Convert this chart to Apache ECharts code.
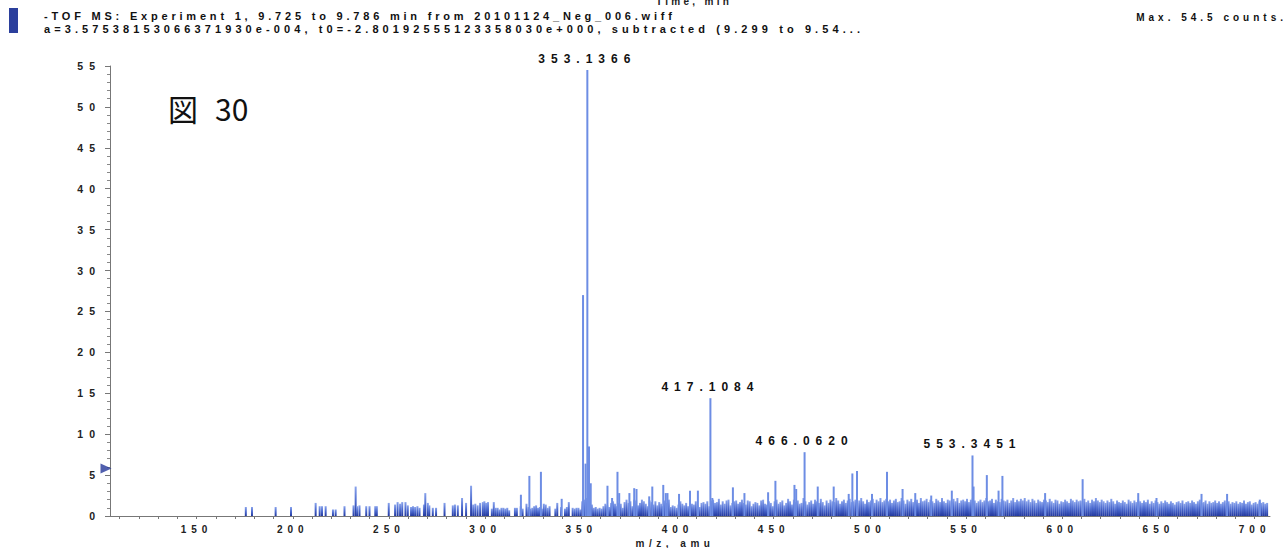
<!DOCTYPE html>
<html>
<head>
<meta charset="utf-8">
<script src="https://cdn.jsdelivr.net/npm/echarts@6/dist/echarts.min.js"></script>
<style>
html, body { margin: 0; padding: 0; background: #fff; }
#main { width: 1288px; height: 548px; }
#main text[style*="grpTime"], #main text[font-family*="grpTime"] { letter-spacing: 3.3px; }
#main text[style*="grpTopA"], #main text[font-family*="grpTopA"] { letter-spacing: 3.8px; }
#main text[style*="grpTopB"], #main text[font-family*="grpTopB"] { letter-spacing: 4.1px; }
#main text[style*="grpMax"], #main text[font-family*="grpMax"] { letter-spacing: 4px; }
#main text[style*="grpPeak"], #main text[font-family*="grpPeak"] { letter-spacing: 6px; }
#main text[style*="grpX"], #main text[font-family*="grpX"] { letter-spacing: 5px; }
#main text[style*="grpY"], #main text[font-family*="grpY"] { letter-spacing: 6px; }
#main text[style*="grpName"], #main text[font-family*="grpName"] { letter-spacing: 4.5px; }
</style>
</head>
<body>
<div id="main"></div>
<script>
// tick labels
var xLabels = [150, 200, 250, 300, 350, 400, 450, 500, 550, 600, 650, 700];

// sparse sticks below m/z 300
var lowMz = [175.6, 178.8, 191.1, 199.1, 211.9, 214.0, 215.2, 217.1, 220.9, 222.3,
  226.9, 231.6, 232.7, 233.5, 234.7, 238.2, 239.9, 242.9, 243.7, 249.9,
  253.2, 254.5, 255.8, 256.9, 258.6, 259.8, 261.5, 262.5, 263.6, 264.8,
  265.9, 268.2, 268.9, 270.2, 271.0, 272.8, 274.5, 278.9, 283.2, 284.3,
  285.8, 288.0, 290.1, 292.7, 293.8, 294.9, 296.1, 297.4, 298.8, 299.6];
var lowInt = [1.1, 1.1, 1.1, 1.1, 1.6, 1.2, 1.2, 1.2, 0.8, 0.8,
  1.2, 1.3, 3.6, 1.2, 1.3, 1.2, 1.2, 1.2, 1.2, 1.6,
  1.4, 1.7, 1.5, 1.7, 1.7, 1.3, 1.1, 1.2, 1.1, 1.2,
  1.0, 1.4, 2.8, 1.6, 1.3, 1.0, 1.0, 1.6, 1.3, 1.4,
  1.3, 2.2, 1.6, 3.7, 1.4, 1.5, 1.3, 1.6, 1.7, 1.8];

// noise band, one stick per amu from m/z 300
var noiseStart = 300;
var noiseInt = [
  1.6, 1.7, 0, 0.9, 1.7, 1.0, 1.0, 0.8, 1.0, 1.0,
  0.9, 1.0, 0.7, 0, 0, 1.0, 1.0, 0, 1.2, 0.9,
  0, 1.5, 1.1, 0.9, 1.0, 1.2, 1.3, 1.0, 1.1, 0.9,
  1.5, 1.4, 1.0, 1.2, 0, 0, 0.9, 1.6, 0, 1.1,
  0, 0.9, 1.1, 1.7, 0, 1.0, 0.9, 1.0, 1.0, 0.8,
  1.8, 2.0, 2.2, 1.6, 2.0, 1.4, 1.0, 1.1, 0.9, 1.0,
  0.9, 1.2, 1.5, 1.3, 1.1, 1.6, 1.8, 1.5, 1.2, 1.6,
  1.5, 1.0, 1.7, 2.0, 1.6, 1.8, 1.2, 2.0, 1.9, 1.3,
  1.6, 2.0, 1.8, 1.5, 1.2, 1.9, 1.7, 1.4, 1.8, 1.3,
  1.7, 1.5, 1.2, 1.9, 1.6, 2.0, 1.1, 1.3, 1.2, 1.0,
  1.4, 1.8, 1.5, 1.3, 1.6, 1.2, 1.7, 1.5, 1.4, 1.8,
  1.3, 1.1, 1.6, 1.7, 1.5, 1.8, 1.2, 1.9, 2.0, 1.6,
  1.7, 2.1, 1.4, 1.8, 1.5, 1.9, 2.0, 1.3, 1.6, 1.8,
  1.9, 1.5, 1.7, 2.0, 1.6, 1.4, 1.9, 1.8, 1.2, 1.5,
  1.7, 1.6, 1.3, 1.9, 2.0, 1.5, 1.4, 1.8, 1.6, 1.2,
  1.8, 2.0, 1.5, 1.7, 1.9, 1.3, 1.6, 2.1, 1.8, 1.4,
  2.0, 1.7, 1.9, 1.5, 1.6, 2.2, 1.8, 1.4, 1.7, 1.9,
  1.5, 2.0, 1.8, 1.6, 2.1, 1.7, 1.3, 1.9, 1.6, 2.0,
  1.8, 1.7, 2.2, 1.9, 1.5, 1.8, 2.0, 1.6, 1.9, 2.1,
  1.7, 1.8, 2.0, 1.6, 1.9, 2.2, 1.8, 1.5, 2.0, 1.7,
  1.9, 2.1, 1.6, 2.0, 1.8, 2.2, 1.7, 1.9, 2.1, 1.8,
  2.0, 1.6, 1.9, 2.1, 1.7, 1.8, 2.2, 1.9, 1.5, 2.0,
  1.8, 2.1, 1.7, 1.9, 2.0, 1.6, 2.2, 1.8, 1.9, 2.1,
  1.7, 2.0, 1.8, 1.6, 2.1, 1.9, 1.7, 2.2, 1.8, 1.6,
  2.0, 1.9, 1.7, 2.1, 1.8, 2.2, 1.6, 1.9, 2.0, 1.8,
  2.1, 1.7, 2.0, 2.2, 1.9, 1.6, 1.8, 2.0, 1.7, 1.9,
  2.2, 1.8, 1.9, 2.1, 1.6, 2.0, 1.8, 1.7, 2.1, 1.9,
  1.8, 2.0, 1.6, 1.9, 2.2, 1.7, 2.0, 1.8, 2.1, 1.9,
  2.2, 1.8, 2.0, 1.7, 2.1, 1.9, 1.6, 2.0, 1.8, 1.7,
  2.0, 1.9, 1.7, 2.1, 1.8, 1.6, 2.0, 1.9, 1.5, 1.8,
  1.7, 2.0, 1.8, 1.6, 2.1, 1.9, 1.7, 2.0, 1.8, 1.9,
  1.8, 2.1, 1.7, 1.9, 1.6, 2.0, 1.8, 2.2, 1.9, 1.7,
  2.0, 1.8, 1.6, 1.9, 1.7, 2.1, 1.8, 1.5, 1.9, 1.7,
  1.6, 1.9, 1.7, 1.5, 2.0, 1.8, 1.6, 1.9, 1.7, 2.0,
  1.8, 1.6, 1.9, 1.7, 2.0, 1.5, 1.8, 1.6, 1.9, 1.7,
  1.5, 1.8, 1.6, 1.9, 1.7, 1.5, 1.8, 1.6, 1.4, 1.7,
  1.8, 1.6, 1.9, 1.5, 1.7, 1.8, 1.6, 1.9, 1.7, 1.5,
  1.8, 2.0, 1.6, 1.7, 1.9, 1.5, 1.8, 1.6, 1.7, 1.9,
  1.6, 1.8, 1.5, 1.7, 1.9, 1.6, 1.8, 1.5, 1.7, 1.6,
  1.8, 1.5, 1.7, 1.6, 1.9, 1.5, 1.7, 1.8, 1.4, 1.6,
  1.7, 1.5, 1.8, 1.6, 1.7, 1.5, 1.6
];

// peaks standing above the noise
var peakMz = [318.6, 323.0, 329.0, 339.8, 350.9, 352.2, 353.1366, 354.0, 354.9, 363.6,
  366.0, 368.8, 369.7, 375.0, 377.5, 378.7, 385.3, 386.9, 392.6, 393.9,
  394.8, 400.8, 406.5, 410.6, 417.1084, 418.1, 428.8, 434.8, 447.1, 450.9,
  460.8, 461.7, 466.0620, 472.9, 481.2, 489.0, 490.9, 493.3, 501.1, 508.9,
  517.0, 523.6, 531.9, 542.6, 553.3451, 553.9, 560.8, 566.9, 568.9, 591.1,
  610.6, 639.5, 649.0, 672.4, 685.7, 702.7];
var peakInt = [2.6, 4.9, 5.4, 2.1, 27.0, 6.4, 54.5, 8.5, 4.0, 3.7,
  2.2, 5.4, 2.8, 2.8, 3.4, 3.3, 2.4, 3.6, 3.8, 2.8,
  2.8, 2.7, 3.1, 3.1, 14.4, 2.2, 3.5, 2.8, 2.9, 4.3,
  3.8, 3.3, 7.8, 3.6, 3.6, 2.7, 5.2, 5.5, 2.7, 5.4,
  3.3, 2.8, 2.5, 3.1, 7.4, 3.6, 5.0, 3.1, 4.9, 2.8,
  4.5, 2.8, 2.2, 2.7, 2.7, 2.0];
var labelledPeaks = ['353.1366', '417.1084', '466.0620', '553.3451'];

var chart = echarts.init(document.getElementById('main'), null, { renderer: 'svg' });

var tickVals = [];
for (var t = 110; t <= 700; t += 10) tickVals.push(t);

var stickFill = new echarts.graphic.LinearGradient(0, 0, 0, 1, [
  { offset: 0, color: '#8aa4ec' },
  { offset: 0.5, color: '#4d6bcf' },
  { offset: 1, color: '#23399f' }
]);

var lowData = lowMz.map(function (m, i) { return [m, lowInt[i]]; });
var noiseData = noiseInt.map(function (v, i) { return [noiseStart + i + 0.5, v]; });
var peakData = peakMz.map(function (m, i) {
  var name = m.toFixed(4);
  var item = { value: [m, peakInt[i]] };
  if (labelledPeaks.indexOf(name) >= 0) {
    item.label = { show: true, formatter: name };
  }
  return item;
});

var option = {
  backgroundColor: '#ffffff',
  animation: false,
  grid: { left: 110, right: 18, top: 66, bottom: 32, outerBoundsMode: 'none', containLabel: false },
  xAxis: {
    type: 'value',
    min: 105,
    max: 708,
    name: 'm/z, amu',
    nameLocation: 'middle',
    nameGap: 18,
    nameTextStyle: {
      fontFamily: 'grpName, "Liberation Sans", sans-serif',
      fontSize: 10, fontWeight: 'bold', color: '#222',
      padding: [0, 30, 0, 0]
    },
    splitLine: { show: false },
    axisLine: { lineStyle: { color: '#777', width: 1 } },
    axisTick: { show: true, length: 3, customValues: tickVals, lineStyle: { color: '#777' } },
    axisLabel: {
      customValues: xLabels,
      margin: 8,
      fontFamily: 'grpX, "Liberation Sans", sans-serif',
      fontSize: 10, fontWeight: 'bold', color: '#222'
    }
  },
  yAxis: {
    type: 'value',
    min: 0,
    max: 55,
    interval: 5,
    splitLine: { show: false },
    axisLine: { show: true, lineStyle: { color: '#777', width: 1 } },
    axisTick: { show: true, length: 5, lineStyle: { color: '#777' } },
    minorTick: { show: true, splitNumber: 5, length: 3, lineStyle: { color: '#888' } },
    axisLabel: {
      margin: 9,
      fontFamily: 'grpY, "Liberation Sans", sans-serif',
      fontSize: 10.5, fontWeight: 'bold', color: '#222'
    }
  },
  graphic: [
    { type: 'rect', shape: { x: 9, y: 8, width: 9, height: 25 }, style: { fill: '#2b3f9c' } },
    { type: 'text', style: { text: 'Time, min', x: 656, y: 1, textVerticalAlign: 'middle',
      font: 'bold 10px grpTime, "Liberation Sans", sans-serif', fill: '#222' } },
    { type: 'text', style: { text: '-TOF MS: Experiment 1, 9.725 to 9.786 min from 20101124_Neg_006.wiff',
      x: 44, y: 16, textVerticalAlign: 'middle',
      font: 'bold 11px grpTopA, "Liberation Sans", sans-serif', fill: '#111' } },
    { type: 'text', style: { text: 'a=3.57538153066371930e-004, t0=-2.80192555123358030e+000, subtracted (9.299 to 9.54...',
      x: 44, y: 29, textVerticalAlign: 'middle',
      font: 'bold 11px grpTopB, "Liberation Sans", sans-serif', fill: '#111' } },
    { type: 'text', style: { text: 'Max. 54.5 counts.', x: 1287, y: 17, textAlign: 'right', textVerticalAlign: 'middle',
      font: 'bold 10px grpMax, "Liberation Sans", sans-serif', fill: '#111' } },
    { type: 'text', style: { text: '図', x: 168, y: 108, textVerticalAlign: 'middle',
      font: '30px "Noto Sans CJK JP", sans-serif', fill: '#111' } },
    { type: 'text', style: { text: '30', x: 215, y: 108, textVerticalAlign: 'middle',
      font: '30px "Noto Sans CJK JP", sans-serif', fill: '#111' } }
  ],
  series: [
    {
      type: 'bar', name: 'low', barWidth: 2, barGap: '-100%',
      itemStyle: { color: stickFill },
      data: lowData
    },
    {
      type: 'bar', name: 'noise', barWidth: 2, barGap: '-100%',
      itemStyle: { color: stickFill },
      data: noiseData
    },
    {
      type: 'bar', name: 'peaks', barWidth: 2, barGap: '-100%',
      itemStyle: { color: '#6d8de4' },
      label: {
        show: false, position: 'top', distance: 5,
        fontFamily: 'grpPeak, "Liberation Sans", sans-serif',
        fontSize: 12, fontWeight: 'bold', color: '#111'
      },
      data: peakData
    },
    {
      type: 'scatter', name: 'marker', symbol: 'triangle', symbolSize: [10, 11],
      symbolRotate: -90, symbolOffset: [-4, 0], clip: false,
      itemStyle: { color: '#24379a' },
      data: [[105, 5.8]]
    }
  ]
};
chart.setOption(option);
</script>
</body>
</html>
